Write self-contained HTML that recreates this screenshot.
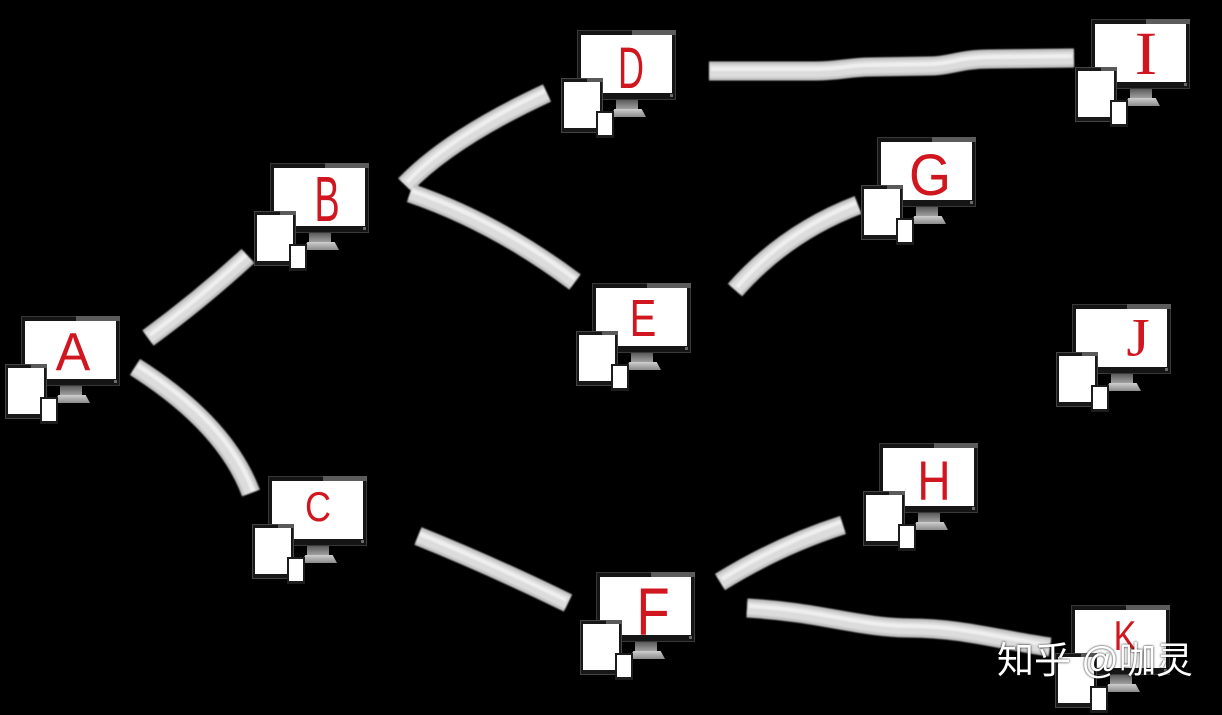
<!DOCTYPE html>
<html>
<head>
<meta charset="utf-8">
<style>
  html,body{margin:0;padding:0;}
  body{width:1222px;height:715px;background:#000;position:relative;overflow:hidden;font-family:"Liberation Sans",sans-serif;}
  .n{position:absolute;width:99px;height:70px;}
  .n div{position:absolute;}
  .mon{left:0;top:0;width:99px;height:70px;background:#151515;box-shadow:inset 0 0 0 1px #383838;}
  .hl{right:0;top:0;width:44px;height:5px;background:#5c5c5c;}
  .scr{left:4px;top:5px;width:91px;height:58px;background:#fff;}
  .dot{right:3px;bottom:3px;width:3px;height:3px;background:#6a6a6a;}
  .neck{left:39px;top:70px;width:22px;height:10px;background:linear-gradient(#5a5a5a,#a8a8a8);}
  .base{left:33px;top:79px;width:36px;height:8px;background:linear-gradient(#cfcfcf,#8a8a8a);clip-path:polygon(12% 0,88% 0,100% 100%,0 100%);}
  .tab{left:-16px;top:48px;width:42px;height:55px;background:#181818;box-shadow:inset 0 0 0 1px #444;}
  .tabhl{left:10px;top:48px;width:16px;height:4px;background:#5a5a5a;}
  .tabs{left:-13px;top:52px;width:36px;height:46px;background:#fff;}
  .ph{left:19px;top:81px;width:18px;height:27px;background:#1c1c1c;}
  .phs{left:21px;top:83px;width:14px;height:22px;background:#fff;}
  .L{position:absolute;color:#d0161e;font-family:"Liberation Sans",sans-serif;line-height:1;transform-origin:center center;white-space:nowrap;}
  .wm{position:absolute;left:997px;top:642px;font-size:37px;line-height:1;color:#fff;font-family:"Liberation Sans","Noto Sans CJK SC",sans-serif;white-space:nowrap;text-shadow:0 0 2px #000;}
</style>
</head>
<body>

<svg width="1222" height="715" style="position:absolute;left:0;top:0;">
  <defs>
    <filter id="soft" x="-5%" y="-5%" width="110%" height="110%"><feGaussianBlur stdDeviation="0.9"/></filter>
  </defs>
  <g fill="none" stroke-linecap="butt" stroke-linejoin="round" filter="url(#soft)">
    <g stroke="#c4c4c4" stroke-width="19">
      <path d="M148,338 Q200,300 248,256"/>
      <path d="M135,367 Q225,424 251,493"/>
      <path d="M405,185 Q450,138 547,93"/>
      <path d="M410,193 Q495,222 575,282"/>
      <path d="M735,290 Q785,233 858,205"/>
      <path d="M418,536 Q490,565 568,603"/>
      <path d="M720,582 Q780,545 843,525"/>
      <path d="M747,608 C820,612 860,628 910,628 S1000,640 1050,647"/>
      <path d="M709,71 L815,71 C840,71 850,67 870,67 L930,66 C950,66 960,59 990,59 L1074,58"/>
    </g>
    <g stroke="#dcdcdc" stroke-width="13">
      <path d="M148,338 Q200,300 248,256"/>
      <path d="M135,367 Q225,424 251,493"/>
      <path d="M405,185 Q450,138 547,93"/>
      <path d="M410,193 Q495,222 575,282"/>
      <path d="M735,290 Q785,233 858,205"/>
      <path d="M418,536 Q490,565 568,603"/>
      <path d="M720,582 Q780,545 843,525"/>
      <path d="M747,608 C820,612 860,628 910,628 S1000,640 1050,647"/>
      <path d="M709,71 L815,71 C840,71 850,67 870,67 L930,66 C950,66 960,59 990,59 L1074,58"/>
    </g>
    <g stroke="#efefef" stroke-width="4">
      <path d="M150,335 Q200,298 246,255"/>
      <path d="M138,366 Q227,422 253,491"/>
      <path d="M407,182 Q450,136 545,91"/>
      <path d="M412,191 Q497,220 575,279"/>
      <path d="M737,287 Q785,231 856,203"/>
      <path d="M420,534 Q490,563 566,600"/>
      <path d="M722,579 Q780,543 841,522"/>
      <path d="M749,606 C820,610 860,626 910,626 S1000,638 1048,645"/>
      <path d="M711,69 L815,69 C840,69 850,65 870,65 L930,64 C950,64 960,57 990,57 L1072,56"/>
    </g>
  </g>
</svg>

<!-- Nodes -->
<div class="n" style="left:21px;top:316px;"><div class="mon"></div><div class="hl"></div><div class="scr"></div><div class="dot"></div><div class="neck"></div><div class="base"></div><div class="tab"></div><div class="tabhl"></div><div class="tabs"></div><div class="ph"></div><div class="phs"></div></div>
<div class="n" style="left:270px;top:163px;"><div class="mon"></div><div class="hl"></div><div class="scr"></div><div class="dot"></div><div class="neck"></div><div class="base"></div><div class="tab"></div><div class="tabhl"></div><div class="tabs"></div><div class="ph"></div><div class="phs"></div></div>
<div class="n" style="left:268px;top:476px;"><div class="mon"></div><div class="hl"></div><div class="scr"></div><div class="dot"></div><div class="neck"></div><div class="base"></div><div class="tab"></div><div class="tabhl"></div><div class="tabs"></div><div class="ph"></div><div class="phs"></div></div>
<div class="n" style="left:577px;top:30px;"><div class="mon"></div><div class="hl"></div><div class="scr"></div><div class="dot"></div><div class="neck"></div><div class="base"></div><div class="tab"></div><div class="tabhl"></div><div class="tabs"></div><div class="ph"></div><div class="phs"></div></div>
<div class="n" style="left:592px;top:283px;"><div class="mon"></div><div class="hl"></div><div class="scr"></div><div class="dot"></div><div class="neck"></div><div class="base"></div><div class="tab"></div><div class="tabhl"></div><div class="tabs"></div><div class="ph"></div><div class="phs"></div></div>
<div class="n" style="left:596px;top:572px;"><div class="mon"></div><div class="hl"></div><div class="scr"></div><div class="dot"></div><div class="neck"></div><div class="base"></div><div class="tab"></div><div class="tabhl"></div><div class="tabs"></div><div class="ph"></div><div class="phs"></div></div>
<div class="n" style="left:877px;top:137px;"><div class="mon"></div><div class="hl"></div><div class="scr"></div><div class="dot"></div><div class="neck"></div><div class="base"></div><div class="tab"></div><div class="tabhl"></div><div class="tabs"></div><div class="ph"></div><div class="phs"></div></div>
<div class="n" style="left:879px;top:443px;"><div class="mon"></div><div class="hl"></div><div class="scr"></div><div class="dot"></div><div class="neck"></div><div class="base"></div><div class="tab"></div><div class="tabhl"></div><div class="tabs"></div><div class="ph"></div><div class="phs"></div></div>
<div class="n" style="left:1091px;top:19px;"><div class="mon"></div><div class="hl"></div><div class="scr"></div><div class="dot"></div><div class="neck"></div><div class="base"></div><div class="tab"></div><div class="tabhl"></div><div class="tabs"></div><div class="ph"></div><div class="phs"></div></div>
<div class="n" style="left:1072px;top:304px;"><div class="mon"></div><div class="hl"></div><div class="scr"></div><div class="dot"></div><div class="neck"></div><div class="base"></div><div class="tab"></div><div class="tabhl"></div><div class="tabs"></div><div class="ph"></div><div class="phs"></div></div>
<div class="n" style="left:1071px;top:605px;"><div class="mon"></div><div class="hl"></div><div class="scr"></div><div class="dot"></div><div class="neck"></div><div class="base"></div><div class="tab"></div><div class="tabhl"></div><div class="tabs"></div><div class="ph"></div><div class="phs"></div></div>

<!-- Letters -->
<div class="L" style="left:73px;top:353px;font-size:40px;transform:translate(-50%,-50%) scale(1.3,1.35);">A</div>
<div class="L" style="left:327px;top:200px;font-size:40px;transform:translate(-50%,-50%) scale(0.95,1.6);">B</div>
<div class="L" style="left:318px;top:508px;font-size:38px;transform:translate(-50%,-50%) scale(0.95,1.1);">C</div>
<div class="L" style="left:631px;top:69px;font-size:40px;transform:translate(-50%,-50%) scale(0.9,1.45);">D</div>
<div class="L" style="left:643px;top:319px;font-size:40px;transform:translate(-50%,-50%) scale(1.0,1.3);">E</div>
<div class="L" style="left:653px;top:612px;font-size:42px;transform:translate(-50%,-50%) scale(1.3,1.6);">F</div>
<div class="L" style="left:930px;top:176px;font-size:40px;transform:translate(-50%,-50%) scale(1.35,1.45);">G</div>
<div class="L" style="left:934px;top:482px;font-size:40px;transform:translate(-50%,-50%) scale(1.15,1.4);">H</div>
<div class="L" style="left:1146px;top:55px;font-size:42px;font-family:'Liberation Serif',serif;transform:translate(-50%,-50%) scale(1.6,1.45);">I</div>
<div class="L" style="left:1138px;top:338px;font-size:40px;font-family:'Liberation Serif',serif;transform:translate(-50%,-50%) scale(1.5,1.35);">J</div>
<div class="L" style="left:1125px;top:636px;font-size:36px;transform:translate(-50%,-50%) scale(0.95,1.15);">K</div>

<div class="wm">知乎 @咖灵</div>

</body>
</html>
